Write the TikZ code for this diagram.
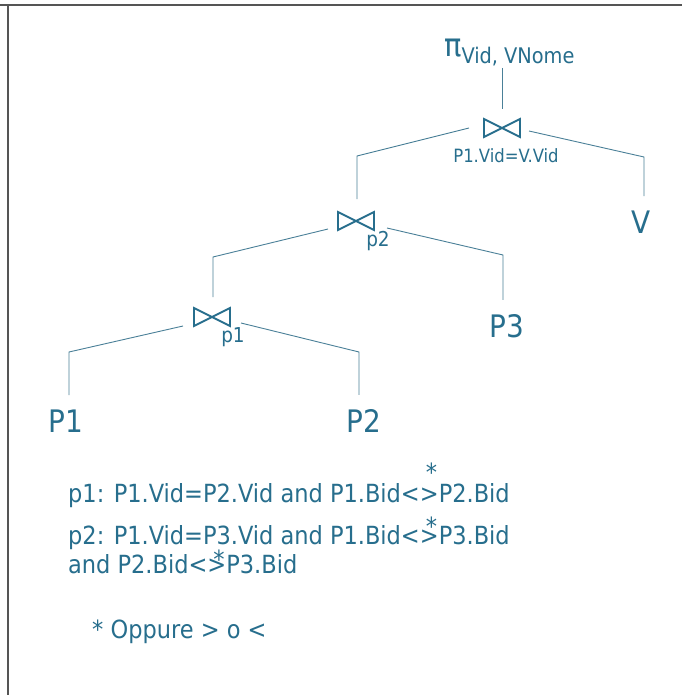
\documentclass[tikz,border=0pt]{standalone}
\usepackage{fontspec}
\setmainfont{DejaVu Sans Condensed}
\definecolor{ink}{HTML}{276E8D}
\definecolor{wire}{HTML}{4A8098}
\definecolor{frame}{HTML}{555555}
\newcommand{\fsz}[1]{\fontsize{#1}{#1}\selectfont}
\newcommand{\mystar}[1]{\rlap{\kern-13pt\raisebox{#1}{*}}}
\tikzset{
  edge/.style={draw=wire, line width=0.9pt},
  jn/.style={minimum width=36pt, minimum height=18pt, inner sep=0pt, outer sep=0pt},
  bow/.style={draw=ink, line width=1.9pt, line join=miter},
  rel/.style={text=ink, font=\fsz{31}, inner xsep=0pt, inner ysep=14pt, anchor=base},
  lbl/.style={text=ink, inner sep=0pt},
  txt/.style={text=ink, font=\fsz{25}, inner sep=0pt, anchor=base west},
}
\begin{document}
\begin{tikzpicture}[x=1pt,y=-1pt]
\useasboundingbox (0,0) rectangle (682,695);
\fill[white] (0,0) rectangle (682,695);
\draw[frame, line width=1.2pt] (0,5) -- (682,5) (8,5) -- (8,695);
% projection
\node[lbl, anchor=base west] (pi) at (444,57) {\fsz{32}π\raisebox{-7pt}{\fsz{21.5}Vid, VNome}};
\coordinate (pib) at (502,68);
% joins
\node[jn] (j1) at (502,128) {};
\node[jn] (j2) at (356,221) {};
\node[jn] (j3) at (212,317) {};
\foreach \j in {j1,j2,j3}
  \draw[bow] (\j.north west) -- (\j.south east) -- (\j.north east) -- (\j.south west) -- cycle;
\node[lbl, font=\fsz{18.3}, anchor=base] (c1l) at (506,162) {P1.Vid=V.Vid};
\node[lbl, font=\fsz{20.5}, anchor=base] (c2l) at (378,246) {p2};
\node[lbl, font=\fsz{20.5}, anchor=base] (c3l) at (233,342) {p1};
% relations
\node[rel] (V) at (641,233) {V};
\node[rel] (P3) at (507,337) {P3};
\node[rel] (P1) at (66,432) {P1};
\node[rel] (P2) at (364,432) {P2};
% corners
\coordinate (k1) at (357,156);
\coordinate (k2) at (644,157);
\coordinate (k3) at (213,257);
\coordinate (k4) at (503,255);
\coordinate (k5) at (69,352);
\coordinate (k6) at (359,352);
% connectors
\draw[edge] (pib) -- ([yshift=10pt]j1.north);
\draw[edge] ([xshift=-15pt]j1.west) -- (k1) -- ([yshift=13pt]j2.north -| k1);
\draw[edge] ([xshift=9pt,yshift=-3pt]j1.east) -- (k2) -- (k2 |- V.north);
\draw[edge] ([xshift=-10pt,yshift=-8pt]j2.west) -- (k3) -- ([yshift=11pt]j3.north -| k3);
\draw[edge] ([xshift=13pt,yshift=-7pt]j2.east) -- (k4) -- (k4 |- P3.north);
\draw[edge] ([xshift=-11pt,yshift=-9pt]j3.west) -- (k5) -- (k5 |- P1.north);
\draw[edge] ([xshift=11pt,yshift=-6pt]j3.east) -- (k6) -- (k6 |- P2.north);
% conditions
\node[txt] (t1) at (68,502) {p1: P1.Vid=P2.Vid and P1.Bid<>\mystar{21pt}P2.Bid};
\node[txt] (t2) at (68,544) {p2: P1.Vid=P3.Vid and P1.Bid<>\mystar{9pt}P3.Bid};
\node[txt] (t3) at (68,573) {and P2.Bid<>\mystar{5pt}P3.Bid};
\node[txt] (t4) at (92,638) {* Oppure > o <};
\end{tikzpicture}
\end{document}
